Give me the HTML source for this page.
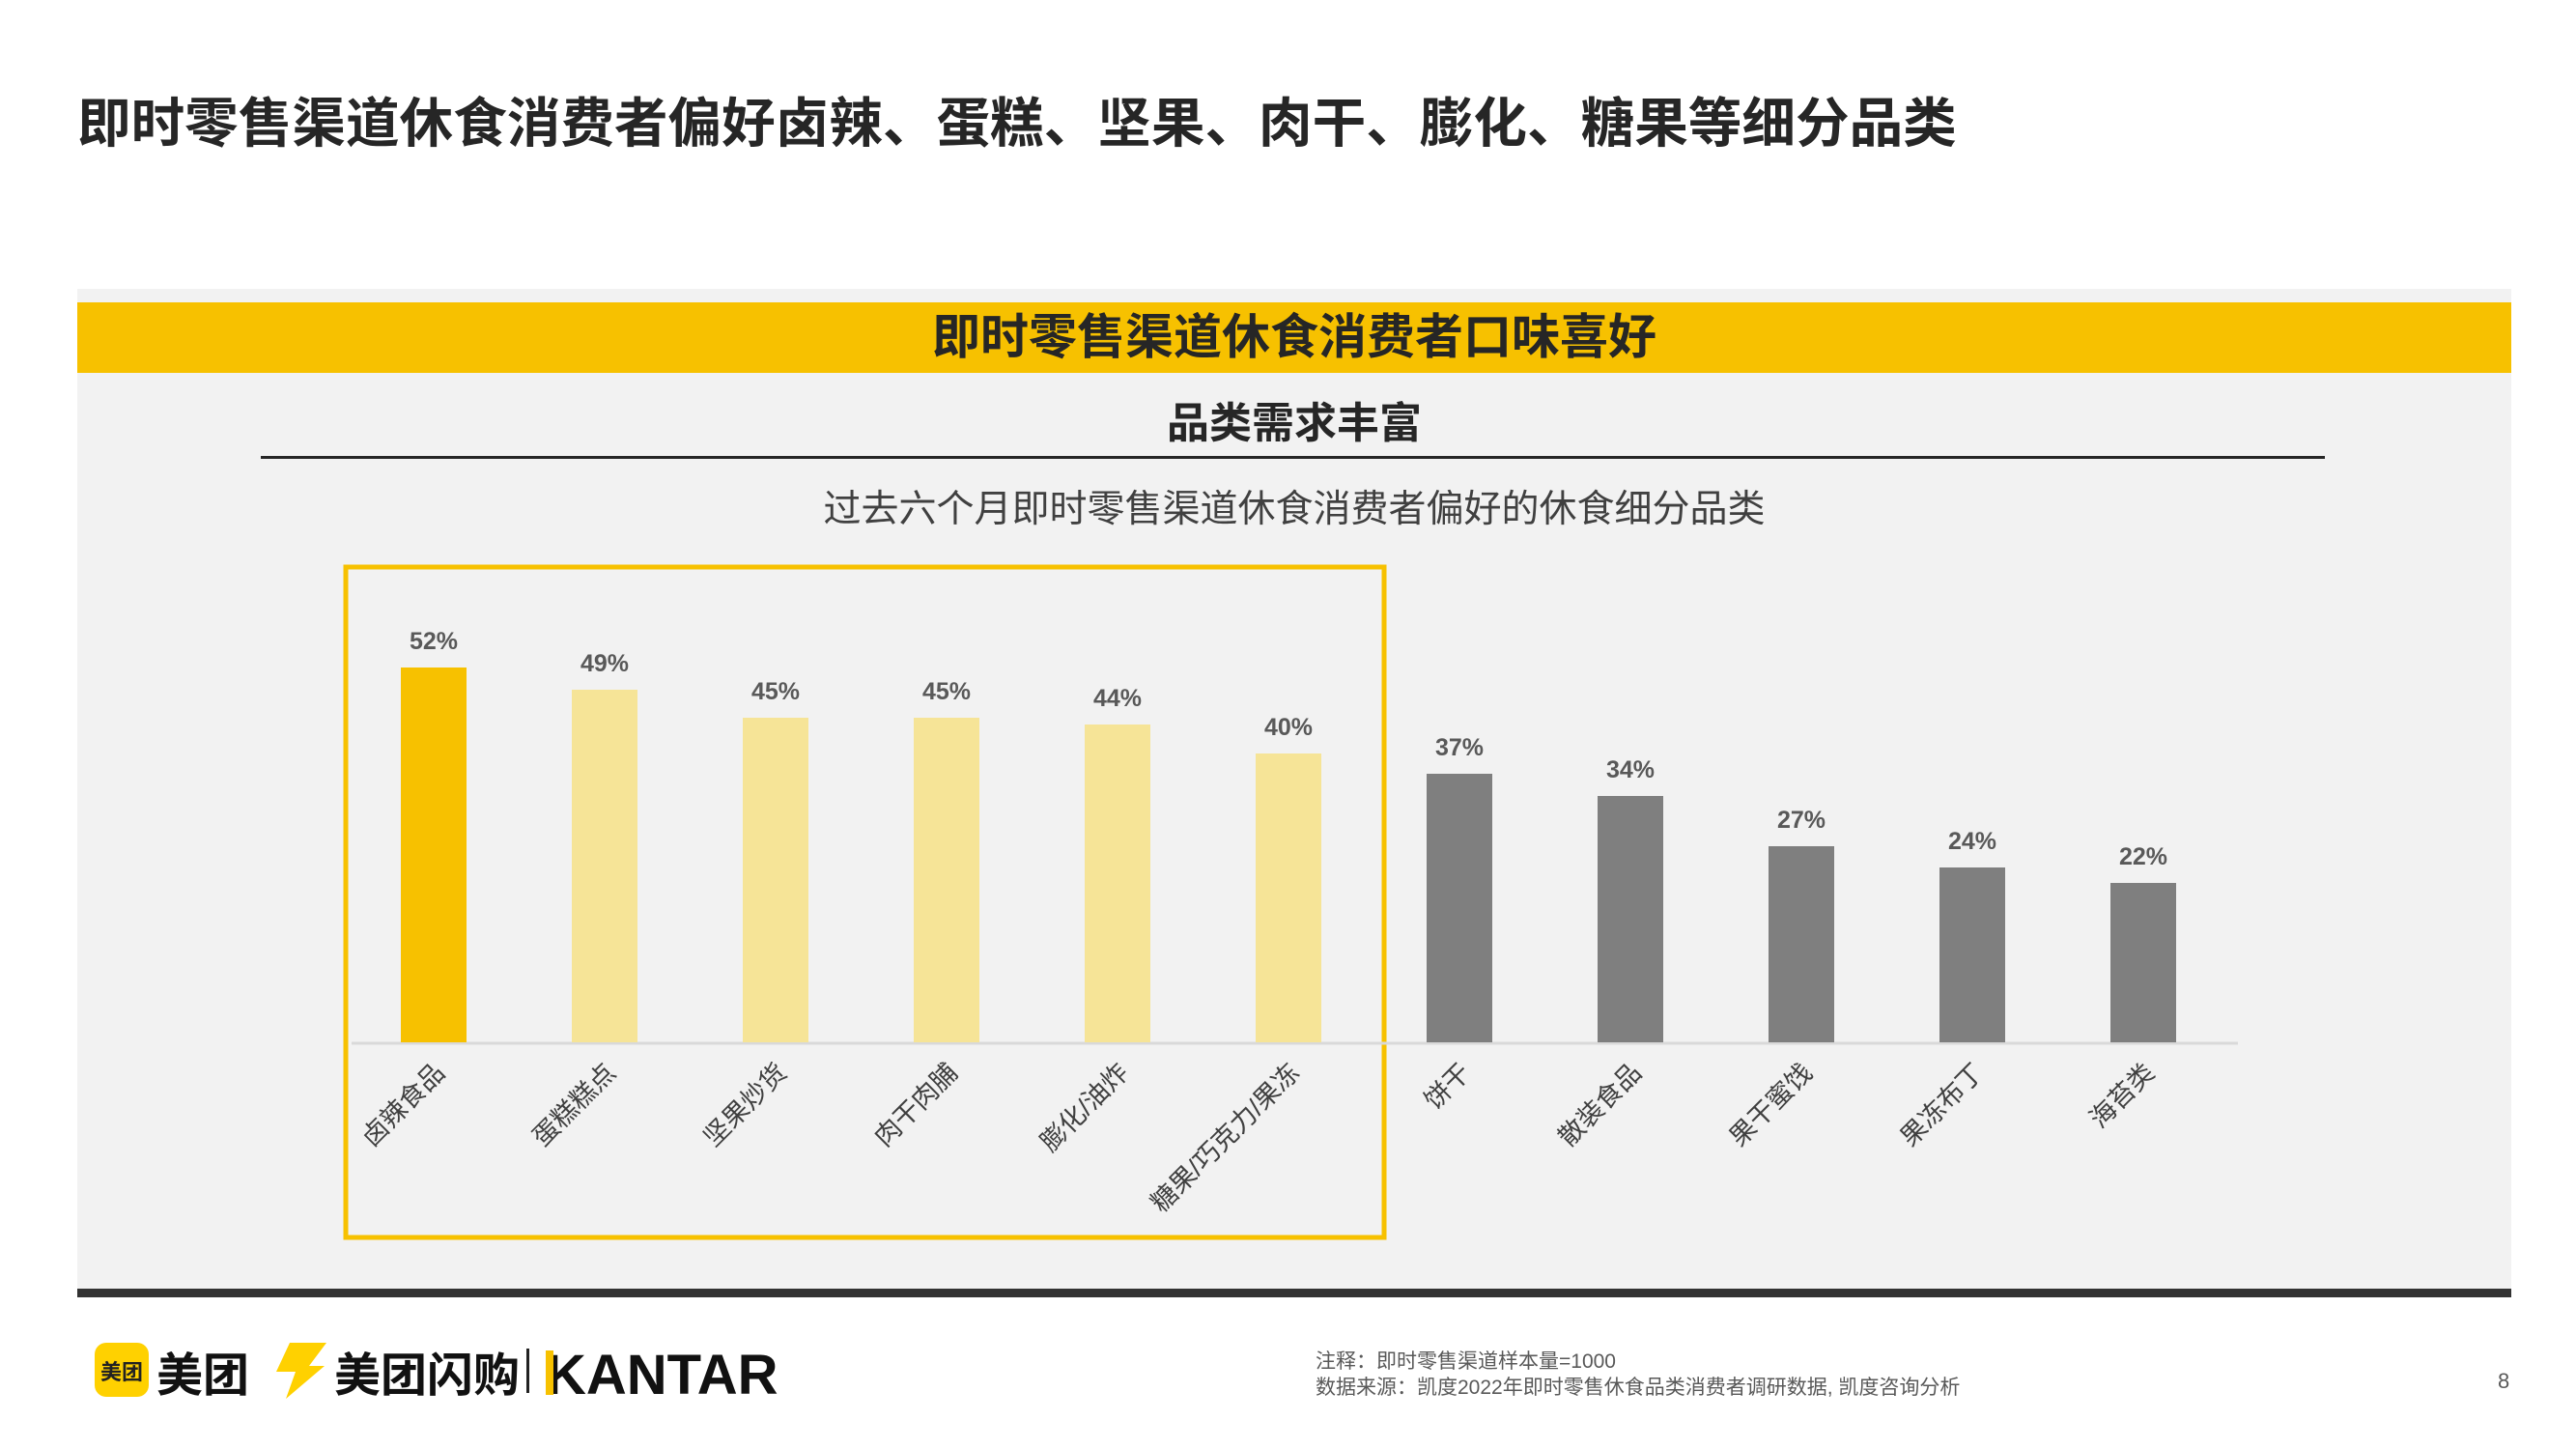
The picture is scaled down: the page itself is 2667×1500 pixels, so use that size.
<!DOCTYPE html>
<html><head><meta charset="utf-8"><style>
body{margin:0;width:2667px;height:1500px;background:#fff;position:relative;overflow:hidden;font-family:"Liberation Sans","Noto Sans CJK SC",sans-serif;}
.a{position:absolute;white-space:nowrap;}
</style></head><body>
<div class="a" style="left:80px;top:95px;font-size:55.6px;line-height:66px;font-weight:bold;color:#262626;">即时零售渠道休食消费者偏好卤辣、蛋糕、坚果、肉干、膨化、糖果等细分品类</div>
<div class="a" style="left:80px;top:299px;width:2520px;height:1036px;background:#f2f2f2;"></div>
<div class="a" style="left:80px;top:313px;width:2520px;height:73px;background:#f7c100;"></div>
<div class="a" style="left:80px;top:313px;width:2520px;height:73px;line-height:73px;text-align:center;font-size:50px;font-weight:bold;color:#262626;">即时零售渠道休食消费者口味喜好</div>
<div class="a" style="left:80px;top:411px;width:2520px;text-align:center;font-size:44px;line-height:56px;font-weight:bold;color:#262626;">品类需求丰富</div>
<div class="a" style="left:270px;top:472px;width:2137px;height:3px;background:#262626;"></div>
<div class="a" style="left:80px;top:503px;width:2520px;text-align:center;font-size:39px;line-height:50px;color:#404040;">过去六个月即时零售渠道休食消费者偏好的休食细分品类</div>
<div class="a" style="left:80px;top:1334px;width:2520px;height:9px;background:#333;"></div>
<svg class="a" style="left:0;top:0" width="2667" height="1500">
<rect x="358" y="587" width="1075" height="694" fill="none" stroke="#f7c100" stroke-width="5"/>
<line x1="364" y1="1080" x2="2317" y2="1080" stroke="#d9d9d9" stroke-width="3"/>
<g font-family="Liberation Sans Narrow, Liberation Sans, sans-serif" font-weight="bold" font-size="25" fill="#595959" text-anchor="middle">
<rect x="415" y="691" width="68" height="388" fill="#f7c100"/><text x="449" y="672">52%</text>
<rect x="592" y="714" width="68" height="365" fill="#f6e497"/><text x="626" y="695">49%</text>
<rect x="769" y="743" width="68" height="336" fill="#f6e497"/><text x="803" y="724">45%</text>
<rect x="946" y="743" width="68" height="336" fill="#f6e497"/><text x="980" y="724">45%</text>
<rect x="1123" y="750" width="68" height="329" fill="#f6e497"/><text x="1157" y="731">44%</text>
<rect x="1300" y="780" width="68" height="299" fill="#f6e497"/><text x="1334" y="761">40%</text>
<rect x="1477" y="801" width="68" height="278" fill="#7f7f7f"/><text x="1511" y="782">37%</text>
<rect x="1654" y="824" width="68" height="255" fill="#7f7f7f"/><text x="1688" y="805">34%</text>
<rect x="1831" y="876" width="68" height="203" fill="#7f7f7f"/><text x="1865" y="857">27%</text>
<rect x="2008" y="898" width="68" height="181" fill="#7f7f7f"/><text x="2042" y="879">24%</text>
<rect x="2185" y="914" width="68" height="165" fill="#7f7f7f"/><text x="2219" y="895">22%</text>
</g>
<g font-family="Liberation Sans, Noto Sans CJK SC, sans-serif" font-size="27" fill="#404040" text-anchor="end">
<text transform="translate(462,1112) rotate(-45)">卤辣食品</text>
<text transform="translate(639,1112) rotate(-45)">蛋糕糕点</text>
<text transform="translate(816,1112) rotate(-45)">坚果炒货</text>
<text transform="translate(993,1112) rotate(-45)">肉干肉脯</text>
<text transform="translate(1170,1112) rotate(-45)">膨化/油炸</text>
<text transform="translate(1347,1112) rotate(-45)">糖果/巧克力/果冻</text>
<text transform="translate(1524,1112) rotate(-45)">饼干</text>
<text transform="translate(1701,1112) rotate(-45)">散装食品</text>
<text transform="translate(1878,1112) rotate(-45)">果干蜜饯</text>
<text transform="translate(2055,1112) rotate(-45)">果冻布丁</text>
<text transform="translate(2232,1112) rotate(-45)">海苔类</text>
</g>
<rect x="98" y="1390" width="56" height="56" rx="12" fill="#ffd100"/>
<text x="126" y="1428" font-size="22" font-weight="bold" fill="#222" text-anchor="middle" font-family="Noto Sans CJK SC, sans-serif">美团</text>
<text x="162" y="1440" font-size="48" font-weight="bold" fill="#111" font-family="Noto Sans CJK SC, sans-serif">美团</text>
<polygon points="300,1390 338,1390 320,1414 336,1414 296,1448 306,1420 286,1420" fill="#ffd100"/>
<text x="346" y="1440" font-size="48" font-weight="bold" fill="#111" font-family="Noto Sans CJK SC, sans-serif">美团闪购</text>
<rect x="545" y="1396" width="3" height="46" fill="#222"/>
<text x="565" y="1443" font-size="58" font-weight="bold" fill="#111" font-family="Liberation Sans, sans-serif">KANTAR</text>
<rect x="565" y="1398" width="8" height="46" fill="#f7c100"/>
<g font-family="Liberation Sans, Noto Sans CJK SC, sans-serif" font-size="21" fill="#595959">
<text x="1362" y="1416">注释：即时零售渠道样本量=1000</text>
<text x="1362" y="1443">数据来源：凯度2022年即时零售休食品类消费者调研数据, 凯度咨询分析</text>
<text x="2586" y="1437" font-size="22">8</text>
</g>
</svg>
</body></html>
